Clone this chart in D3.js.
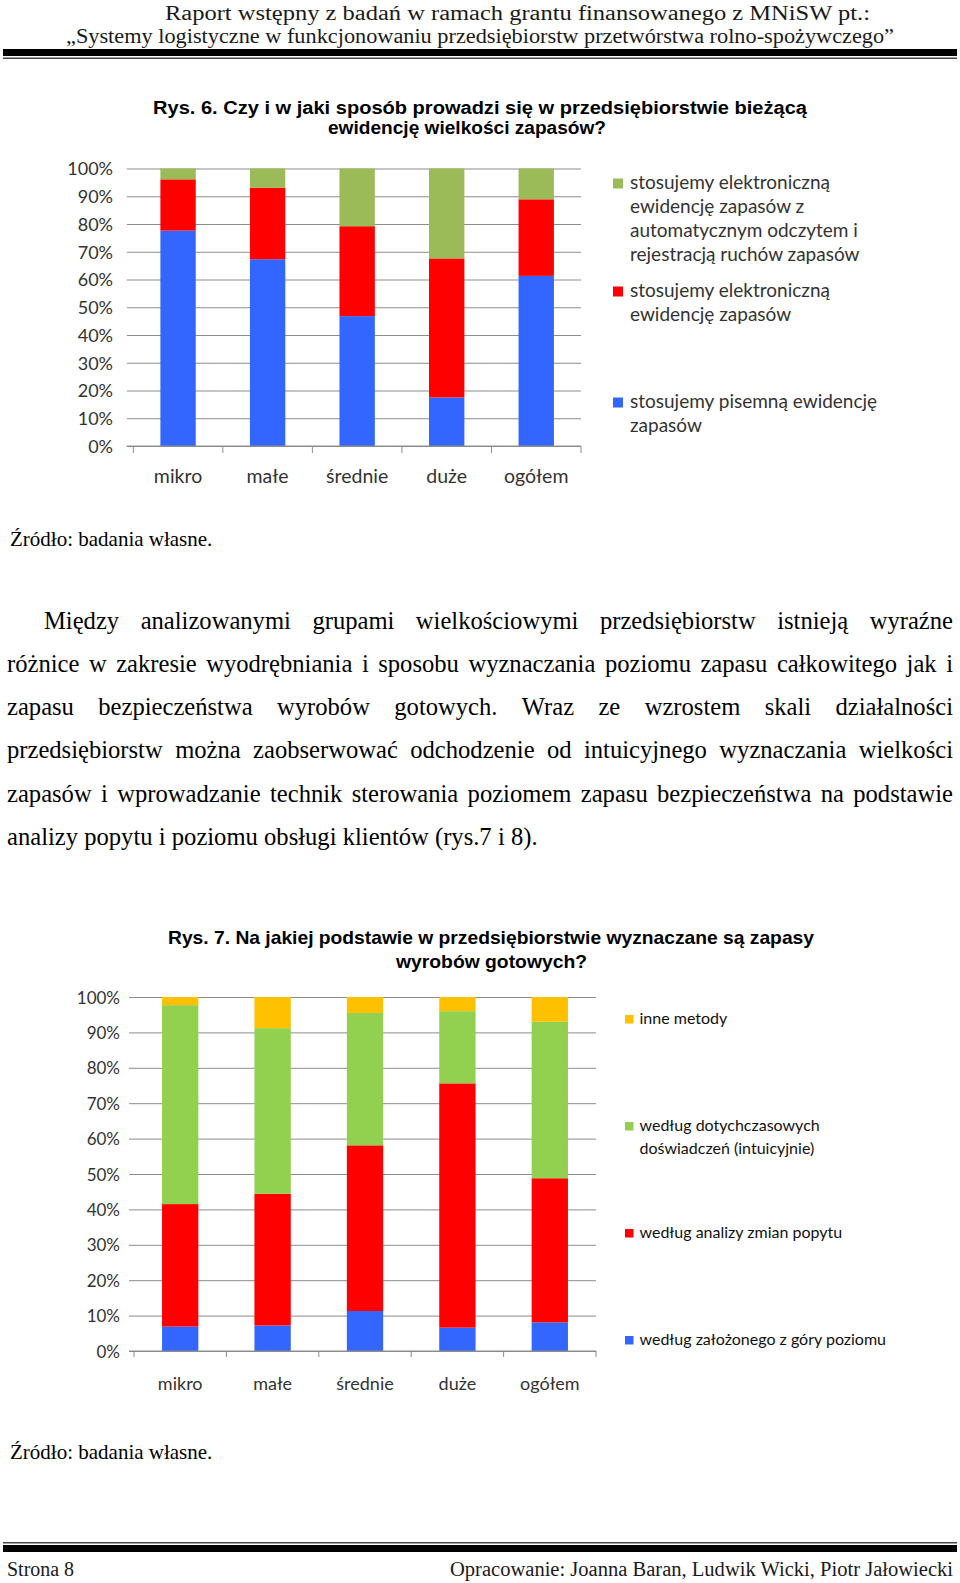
<!DOCTYPE html>
<html lang="pl">
<head>
<meta charset="utf-8">
<script src="https://cdn.jsdelivr.net/npm/d3@7"></script>
<style>
  html, body { margin: 0; padding: 0; background: #fff; }
  svg { display: block; }
</style>
</head>
<body>
<svg id="page" width="960" height="1583"></svg>
<script>
// ---------------- DATA ----------------
const categories = ["mikro", "małe", "średnie", "duże", "ogółem"];
const percentTicks = [0, 10, 20, 30, 40, 50, 60, 70, 80, 90, 100];

// Rys. 6 (bottom -> top)
const rys6Pisemna     = [77.6, 67.3, 46.8, 17.5, 61.3];
const rys6Elektron    = [18.5, 25.8, 32.4, 50.1, 27.6];
const rys6Automat     = [3.9, 6.9, 20.8, 32.4, 11.1];
const rys6Keys   = ["pisemna", "elektron", "automat"];
const rys6Colors = ["#3366FF", "#FF0000", "#9BBB59"];
const rys6Legend = [
  ["stosujemy pisemną ewidencję", "zapasów"],
  ["stosujemy elektroniczną", "ewidencję zapasów"],
  ["stosujemy elektroniczną", "ewidencję zapasów z", "automatycznym odczytem i", "rejestracją ruchów zapasów"]
];
const rys6Title = ["Rys. 6.  Czy i w jaki sposób prowadzi się w przedsiębiorstwie bieżącą", "ewidencję wielkości zapasów?"];

// Rys. 7 (bottom -> top)
const rys7ZGory   = [6.9, 7.2, 11.3, 6.6, 8.1];
const rys7Popyt   = [34.6, 37.2, 46.8, 69.0, 40.7];
const rys7Intuic  = [56.2, 46.8, 37.4, 20.4, 44.2];
const rys7Inne    = [2.3, 8.8, 4.5, 4.0, 7.0];
const rys7Keys   = ["zgory", "popyt", "intuic", "inne"];
const rys7Colors = ["#3366FF", "#FF0000", "#92D050", "#FFC000"];
const rys7Legend = [
  ["według założonego z góry poziomu"],
  ["według analizy zmian popytu"],
  ["według dotychczasowych", "doświadczeń (intuicyjnie)"],
  ["inne metody"]
];
const rys7Title = ["Rys. 7. Na jakiej podstawie w przedsiębiorstwie wyznaczane są zapasy", "wyrobów gotowych?"];

const headerLines = ["Raport wstępny z badań w ramach grantu finansowanego z MNiSW pt.:",
                     "„Systemy logistyczne w funkcjonowaniu przedsiębiorstw przetwórstwa rolno-spożywczego”"];
const sourceText = "Źródło: badania własne.";
const paragraphLines = [
  "Między analizowanymi grupami wielkościowymi przedsiębiorstw istnieją wyraźne",
  "różnice w zakresie wyodrębniania i sposobu wyznaczania poziomu zapasu całkowitego jak i",
  "zapasu bezpieczeństwa wyrobów gotowych. Wraz ze wzrostem skali działalności",
  "przedsiębiorstw można zaobserwować odchodzenie od intuicyjnego wyznaczania wielkości",
  "zapasów i wprowadzanie technik sterowania poziomem zapasu bezpieczeństwa na podstawie",
  "analizy popytu i poziomu obsługi klientów (rys.7 i 8)."
];
const footerLeft = "Strona 8";
const footerRight = "Opracowanie: Joanna Baran, Ludwik Wicki, Piotr Jałowiecki";

// ---------------- PAGE ----------------
const svg = d3.select("#page");
svg.append("rect").attr("width", 960).attr("height", 1583).attr("fill", "#fff");

const serif = "'Liberation Serif', 'Times New Roman', serif";
const sans = "Lato, 'Open Sans', sans-serif";
const bold = "'Liberation Sans', Arial, sans-serif";

// header
const hdr = svg.append("g");
hdr.append("text").attr("x", 165).attr("y", 19.5).attr("font-family", serif).attr("font-size", 20.5)
  .attr("fill", "#1a1a1a").attr("textLength", 705).attr("lengthAdjust", "spacingAndGlyphs").text(headerLines[0]);
hdr.append("text").attr("x", 66).attr("y", 42.5).attr("font-family", serif).attr("font-size", 20.5)
  .attr("fill", "#1a1a1a").attr("textLength", 828).attr("lengthAdjust", "spacingAndGlyphs").text(headerLines[1]);
hdr.append("rect").attr("x", 3).attr("y", 49).attr("width", 954).attr("height", 7).attr("fill", "#000");
hdr.append("rect").attr("x", 3).attr("y", 57.5).attr("width", 954).attr("height", 1.5).attr("fill", "#444");

// footer
const ftr = svg.append("g");
ftr.append("rect").attr("x", 3).attr("y", 1542).attr("width", 954).attr("height", 1.5).attr("fill", "#444");
ftr.append("rect").attr("x", 3).attr("y", 1545).attr("width", 954).attr("height", 7).attr("fill", "#000");
ftr.append("text").attr("x", 7).attr("y", 1576).attr("font-family", serif).attr("font-size", 20)
  .attr("fill", "#1a1a1a").attr("textLength", 67).attr("lengthAdjust", "spacingAndGlyphs").text(footerLeft);
ftr.append("text").attr("x", 450).attr("y", 1576).attr("font-family", serif).attr("font-size", 20)
  .attr("fill", "#1a1a1a").attr("textLength", 503).attr("lengthAdjust", "spacingAndGlyphs").text(footerRight);

// source notes
[546, 1459].forEach(y => {
  svg.append("text").attr("x", 10).attr("y", y).attr("font-family", serif).attr("font-size", 21)
    .attr("fill", "#000").text(sourceText);
});

// justified paragraph
(function () {
  const g = svg.append("g").attr("font-family", serif).attr("font-size", 24.6).attr("fill", "#000");
  const right = 953, left = 7, indent = 44, y0 = 628.5, lh = 43.3;
  paragraphLines.forEach((line, i) => {
    const words = line.split(" ");
    const x0 = i === 0 ? indent : left;
    const last = i === paragraphLines.length - 1;
    const nodes = words.map(w => g.append("text").attr("y", y0 + i * lh).text(w));
    const widths = nodes.map(n => n.node().getComputedTextLength());
    const total = d3.sum(widths);
    const gap = last ? 6.2 : (right - x0 - total) / (words.length - 1);
    let x = x0;
    nodes.forEach((n, k) => { n.attr("x", x); x += widths[k] + gap; });
  });
})();

// ---------------- CHART FUNCTION ----------------
function drawChart(cfg) {
  const g = svg.append("g");
  const x = d3.scaleBand().domain(categories).range([cfg.left, cfg.right])
    .paddingInner(cfg.padIn).paddingOuter(cfg.padIn / 2);
  const y = d3.scaleLinear().domain([0, 100]).range([cfg.bottom, cfg.top]);

  // gridlines (y axis with ticks extending across)
  const yAxis = d3.axisLeft(y).tickValues(percentTicks)
    .tickSize(-(cfg.right - cfg.left)).tickFormat(d => d + "%").tickPadding(0);
  const ya = g.append("g").attr("transform", `translate(${cfg.left},0)`).call(yAxis);
  ya.select(".domain").remove();
  ya.selectAll(".tick line").attr("stroke", "#8c8c8c").attr("stroke-width", 1)
    .attr("x1", -cfg.tickOut).attr("x2", cfg.right - cfg.left);
  ya.selectAll(".tick text").attr("x", cfg.labelRight - cfg.left).attr("dy", "0.36em")
    .attr("font-family", sans).attr("font-size", cfg.tickFont).attr("fill", "#333");

  // stacked bars
  const rows = categories.map((c, i) => {
    const r = { cat: c };
    cfg.keys.forEach((k, j) => r[k] = cfg.series[j][i]);
    return r;
  });
  const stacked = d3.stack().keys(cfg.keys)(rows);
  g.append("g").selectAll("g").data(stacked).join("g")
    .attr("fill", (d, i) => cfg.colors[i])
    .selectAll("rect").data(d => d).join("rect")
    .attr("x", d => x(d.data.cat))
    .attr("width", x.bandwidth())
    .attr("y", d => y(d[1]))
    .attr("height", d => y(d[0]) - y(d[1]));

  // x axis
  const xa = g.append("g").attr("transform", `translate(0,${cfg.bottom})`);
  xa.append("line").attr("x1", cfg.left - cfg.tickOut).attr("x2", cfg.right)
    .attr("stroke", "#8c8c8c").attr("stroke-width", 1);
  const bounds = categories.map(c => x(c) - (x.step() - x.bandwidth()) / 2).concat([cfg.right]);
  xa.selectAll("line.tk").data(bounds).join("line").attr("class", "tk")
    .attr("x1", d => d).attr("x2", d => d).attr("y1", 0).attr("y2", cfg.tickDown)
    .attr("stroke", "#8c8c8c").attr("stroke-width", 1);
  xa.selectAll("text").data(categories).join("text")
    .attr("x", d => x(d) + x.bandwidth() / 2).attr("y", cfg.xLabelY - cfg.bottom)
    .attr("text-anchor", "middle").attr("font-family", sans).attr("font-size", cfg.xFont)
    .attr("fill", "#333").text(d => d);

  // title
  cfg.title.forEach((t, i) => {
    g.append("text").attr("x", cfg.titleX[i]).attr("y", cfg.titleY[i])
      .attr("font-family", bold).attr("font-weight", "bold").attr("font-size", cfg.titleFont)
      .attr("textLength", cfg.titleW[i]).attr("lengthAdjust", "spacingAndGlyphs")
      .attr("fill", "#000").text(t);
  });

  // legend (top entry = last series)
  cfg.legend.forEach((lines, j) => {
    const ly = cfg.legendY[j];
    g.append("rect").attr("x", cfg.legendX).attr("y", ly - cfg.sq - 0.5)
      .attr("width", cfg.sq).attr("height", cfg.sq).attr("fill", cfg.colors[j]);
    lines.forEach((ln, k) => {
      g.append("text").attr("x", cfg.legendTextX).attr("y", ly + k * cfg.legendLH)
        .attr("font-family", sans).attr("font-size", cfg.legendFont).attr("fill", cfg.legendColor).text(ln);
    });
  });
}

drawChart({
  left: 133.3, right: 581, top: 168.5, bottom: 446, padIn: 0.605, tickOut: 6.5, tickDown: 7,
  labelRight: 113, tickFont: 18, xFont: 19.5, xLabelY: 483,
  keys: rys6Keys, series: [rys6Pisemna, rys6Elektron, rys6Automat], colors: rys6Colors,
  title: rys6Title, titleX: [153, 328], titleW: [654, 278], titleY: [114, 134], titleFont: 18,
  legend: rys6Legend, legendY: [408, 297, 189], legendX: 613, legendTextX: 630, sq: 10,
  legendLH: 24, legendFont: 19, legendColor: "#333"
});

drawChart({
  left: 134, right: 596, top: 997, bottom: 1351, padIn: 0.607, tickOut: 5, tickDown: 6,
  labelRight: 120, tickFont: 17, xFont: 18, xLabelY: 1390,
  keys: rys7Keys, series: [rys7ZGory, rys7Popyt, rys7Intuic, rys7Inne], colors: rys7Colors,
  title: rys7Title, titleX: [168, 396], titleW: [646, 191], titleY: [944, 968], titleFont: 18.5,
  legend: rys7Legend, legendY: [1345, 1238, 1131, 1024], legendX: 625, legendTextX: 639.5, sq: 8.5,
  legendLH: 23, legendFont: 16, legendColor: "#111"
});
</script>
</body>
</html>
